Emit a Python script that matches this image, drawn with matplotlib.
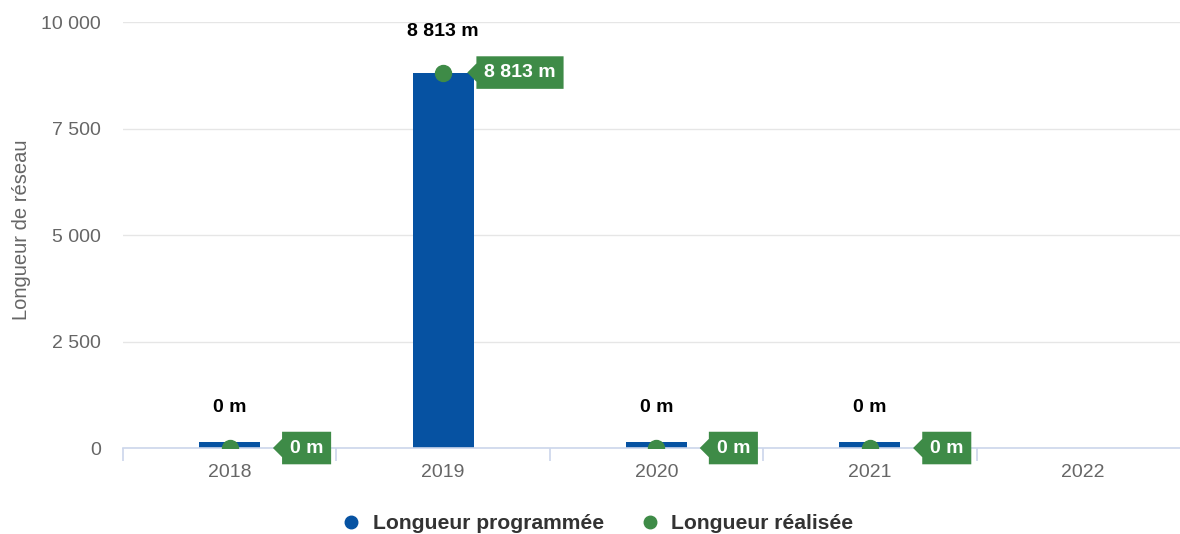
import numpy as np
import matplotlib.pyplot as plt
from matplotlib.path import Path
from matplotlib.lines import Line2D

plt.rcParams['font.family'] = ['Liberation Sans', 'DejaVu Sans']

## Donnees
annees = ['2018', '2019', '2020', '2021', '2022']
longueur_programmee = [0, 8813, 0, 0, np.nan]
longueur_realisee = [0, 8813, 0, 0, np.nan]
graduations_y = [0, 2500, 5000, 7500, 10000]

BLEU = '#0652a2'
VERT = '#3e8b47'
GRIS = '#666666'
AXE = '#ccd6eb'


def fmt(v):
    return f'{v:,.0f}'.replace(',', ' ')


## Etiquette en forme de bulle avec une pointe a gauche
def bulle(x0, y0, width, height, mutation_size):
    pad = 0.4 * mutation_size
    tri = 0.47 * mutation_size
    l, r = x0 - pad, x0 + width + pad
    b, t = y0 - pad, y0 + height + pad
    cy = (b + t) / 2
    verts = [(l, b), (r, b), (r, t), (l, t), (l, cy + tri), (l - tri, cy), (l, cy - tri), (l, b)]
    codes = [Path.MOVETO] + [Path.LINETO] * 6 + [Path.CLOSEPOLY]
    return Path(verts, codes)


fig = plt.figure(figsize=(11.8, 5.34), dpi=100)
ax = fig.add_axes([0.1042, 0.161, 0.9042, 0.7978])
ax.set_xlim(-0.5, 4.5)
ax.set_ylim(0, 10000)

x = np.arange(len(annees))

# longueur minimale d'affichage des barres (6 px)
px_par_unite = 0.7978 * 534 / 10000
min_len = 6.5 / px_par_unite
xb = [i for i, v in zip(x, longueur_programmee) if not np.isnan(v)]
hb = [max(v, min_len) for v in longueur_programmee if not np.isnan(v)]
ax.bar(xb, hb, width=0.286, color=BLEU, zorder=2)

ax.plot(x, longueur_realisee, 'o', ms=11.5, color=VERT, linestyle='none', zorder=4)

for i, v in enumerate(longueur_programmee):
    if np.isnan(v):
        continue
    ax.annotate(f'{fmt(v)} m', (i, v), xytext=(0, 29.5), textcoords='offset points',
                ha='center', va='center', fontsize=14, fontweight='bold', color='black', zorder=6)

for i, v in enumerate(longueur_realisee):
    if np.isnan(v):
        continue
    ax.annotate(f'{fmt(v)} m', (i, v), xytext=(55.4, 0), textcoords='offset points',
                ha='center', va='center', fontsize=14, fontweight='bold', color='white', zorder=6,
                bbox=dict(boxstyle=bulle, fc=VERT, ec='none'))

## Axes et grille
for s in ['top', 'right', 'left']:
    ax.spines[s].set_visible(False)
ax.spines['bottom'].set_color(AXE)
ax.spines['bottom'].set_linewidth(1.2)
ax.grid(axis='y', color='#e6e6e6', linewidth=1)
ax.set_axisbelow(True)

ax.set_yticks(graduations_y)
ax.set_yticklabels([fmt(v) for v in graduations_y])
ax.tick_params(axis='y', length=0, pad=16, labelsize=14, labelcolor=GRIS)
ax.set_ylabel('Longueur de réseau', fontsize=14.5, color=GRIS)
ax.yaxis.set_label_coords(-0.0862, 0.513)

ax.set_xticks(np.arange(-0.5, 5, 1))
ax.set_xticklabels([])
ax.tick_params(axis='x', which='major', length=9.4, width=1.2, color=AXE)
ax.set_xticks(x, minor=True)
ax.set_xticklabels(annees, minor=True)
ax.tick_params(axis='x', which='minor', length=0, pad=11.5, labelsize=14, labelcolor=GRIS)

## Legende
poignees = [Line2D([], [], marker='o', color=BLEU, linestyle='none', ms=9),
            Line2D([], [], marker='o', color=VERT, linestyle='none', ms=9)]
fig.legend(poignees, ['Longueur programmée', 'Longueur réalisée'], loc='center',
           bbox_to_anchor=(0.507, 0.019), ncol=2, frameon=False,
           prop={'size': 15.25, 'weight': 'bold'}, labelcolor='#333333',
           handlelength=0.8, handletextpad=0.6, columnspacing=1.8)

fig.savefig('out.png', dpi=100)
